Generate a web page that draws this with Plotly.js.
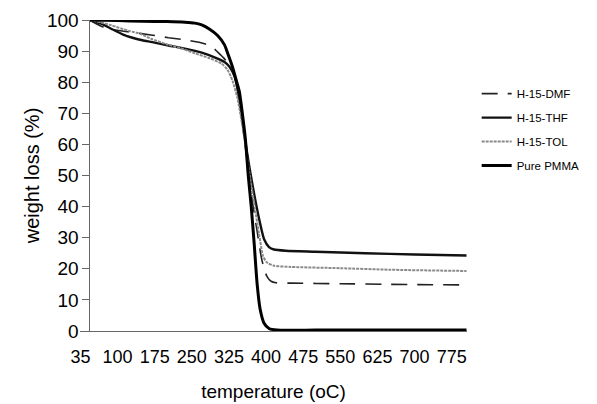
<!DOCTYPE html>
<html>
<head>
<meta charset="utf-8">
<script src="https://cdn.plot.ly/plotly-3.0.1.min.js"></script>
<style>html,body{margin:0;padding:0;background:#fff;}#chart{width:597px;height:404px;}</style>
</head>
<body>
<div id="chart"></div>
<script>
// Temperature (oC) and weight (%)
const dmfT   = [43, 67, 87, 123, 167, 203, 236, 270, 290, 302, 316, 326, 336, 346, 356, 364, 372, 382, 390, 396, 402, 410, 420, 450, 550, 650, 805];
const dmfW   = [100, 98, 97, 96.2, 95.2, 94.3, 93.6, 92.6, 91.5, 89.7, 87.5, 85.5, 82, 75, 62, 52, 42, 32, 24, 20, 17.5, 16, 15.5, 15.4, 15.2, 15, 14.8];

const thfT   = [43, 67, 87, 110, 130, 150, 170, 203, 236, 270, 302, 316, 326, 336, 342, 350, 358, 366, 376, 386, 396, 406, 416, 440, 500, 600, 700, 805];
const thfW   = [100, 98.8, 97.2, 95.4, 94.3, 93.5, 92.9, 91.8, 90.8, 89.5, 87.6, 86.5, 85, 82, 78, 70, 61, 53, 44, 36, 29.5, 27, 26.2, 25.8, 25.5, 25, 24.6, 24.3];

const tolT   = [43, 67, 87, 123, 147, 167, 203, 226, 256, 286, 310, 322, 332, 342, 350, 358, 366, 376, 386, 394, 402, 416, 450, 550, 650, 805];
const tolW   = [100, 99.2, 98.3, 96.5, 95.5, 94, 92, 91, 89.3, 87.7, 86, 84, 80.5, 75, 68, 60, 51, 41, 31, 24, 22, 21, 20.6, 20.2, 19.7, 19.3];

const pmmaT  = [43, 100, 150, 200, 236, 256, 270, 286, 302, 316, 322, 332, 340, 346, 352, 358, 364, 370, 376, 382, 388, 396, 406, 422, 500, 600, 700, 805];
const pmmaW  = [100, 99.8, 99.6, 99.5, 99.3, 99, 98.4, 97, 95, 92, 89.5, 85, 80.5, 77, 70, 62, 50, 40, 28, 15, 7, 2.5, 0.8, 0.3, 0.3, 0.3, 0.3, 0.3];

const tickPos  = [25, 100, 175, 250, 325, 400, 475, 550, 625, 700, 775];
const tickText = ['35', '100', '175', '250', '325', '400', '475', '550', '625', '700', '775'];
const yTicks   = [0, 10, 20, 30, 40, 50, 60, 70, 80, 90, 100];

const seriesNames = ['H-15-DMF', 'H-15-THF', 'H-15-TOL', 'Pure PMMA'];

const FONT = 'Liberation Sans, Arial, sans-serif';

const traces = [
  {x: dmfT, y: dmfW, name: seriesNames[0], legendgroup: 'a', mode: 'lines',
   line: {color: '#222', width: 1.6, dash: '16px,10px', shape: 'spline', smoothing: 0.6}},
  {x: thfT, y: thfW, name: seriesNames[1], legendgroup: 'b', mode: 'lines',
   line: {color: '#111', width: 2.4, shape: 'spline', smoothing: 0.6}},
  {x: tolT, y: tolW, name: seriesNames[2], legendgroup: 'c', mode: 'lines',
   line: {color: '#8a8a8a', width: 2, dash: '3px,1px', shape: 'spline', smoothing: 0.6}},
  {x: pmmaT, y: pmmaW, name: seriesNames[3], legendgroup: 'd', mode: 'lines',
   line: {color: '#000', width: 3, shape: 'spline', smoothing: 0.6}}
];

const layout = {
  width: 597, height: 404,
  margin: {l: 80, r: 127, t: 20, b: 73},
  paper_bgcolor: '#fff', plot_bgcolor: '#fff',
  font: {family: FONT, color: '#000'},
  showlegend: true,
  legend: {x: 1.025, y: 0.81, xanchor: 'left', yanchor: 'top',
           font: {family: FONT, size: 11.5, color: '#000'},
           tracegroupgap: 5, bgcolor: 'rgba(0,0,0,0)'},
  xaxis: {range: [24, 806], tickmode: 'array', tickvals: tickPos, ticktext: tickText,
          showgrid: false, zeroline: false, showline: true, linecolor: '#666', linewidth: 1,
          ticks: 'outside', ticklen: 9, tickcolor: 'rgba(0,0,0,0)',
          tickfont: {family: FONT, size: 18, color: '#000'},
          title: {text: 'temperature (oC)', font: {family: FONT, size: 19, color: '#000'}, standoff: 19}},
  yaxis: {range: [0, 100], tickmode: 'array', tickvals: yTicks, anchor: 'free', position: 0.0243,
          showgrid: false, zeroline: false, showline: true, linecolor: '#666', linewidth: 1,
          ticks: 'outside', ticklen: 7, tickcolor: '#666', tickwidth: 1,
          tickfont: {family: FONT, size: 19, color: '#000'},
          title: {text: 'weight loss (%)', font: {family: FONT, size: 20, color: '#000'}, standoff: 0}}
};

Plotly.newPlot('chart', traces, layout, {displayModeBar: false, staticPlot: true});
</script>
</body>
</html>
